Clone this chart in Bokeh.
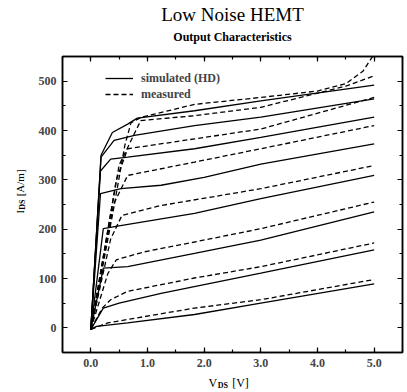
import math
from bokeh.plotting import figure
from bokeh.models import (Range1d, LinearAxis, SingleIntervalTicker, Label,
                          NumeralTickFormatter, CustomJSTickFormatter, Legend, LegendItem)
from bokeh.embed import file_html
from bokeh.resources import INLINE

# ---------------- data ----------------
x_ticks = [0, 1, 2, 3, 4, 5]
y_ticks = [0, 100, 200, 300, 400, 500]

# simulated (HD) curves: V_DS [V] and I_DS [A/m]
sim_v = [
    [0, 0.10, 0.65, 1.83, 3.0, 5.0],
    [0, 0.22, 0.50, 1.24, 3.0, 5.0],
    [0, 0.22, 0.65, 1.83, 3.0, 5.0],
    [0, 0.22, 0.47, 1.83, 3.0, 5.0],
    [0, 0.17, 0.53, 1.24, 2.0, 3.0, 5.0],
    [0, 0.17, 0.35, 0.65, 1.83, 3.0, 5.0],
    [0, 0.18, 0.41, 0.77, 1.83, 3.0, 5.0],
    [0, 0.18, 0.38, 0.65, 0.82, 1.83, 3.0, 5.0],
]
sim_i = [
    [-3, 3, 10, 27, 50, 89],
    [-3, 40, 50, 70, 111, 158],
    [-3, 121, 124, 151, 178, 235],
    [-3, 201, 206, 232, 262, 309],
    [-3, 272, 282, 289, 305, 332, 373],
    [-3, 318, 342, 346, 363, 386, 427],
    [-3, 346, 380, 390, 410, 427, 464],
    [-3, 350, 396, 413, 425, 440, 460, 492],
]

# measured curves
meas_v = [
    [0, 0.30, 0.65, 1.83, 3.0, 5.0],
    [0, 0.20, 0.35, 0.65, 1.83, 3.0, 5.0],
    [0, 0.30, 0.45, 0.94, 1.83, 3.0, 5.0],
    [0, 0.35, 0.55, 1.24, 3.0, 5.0],
    [0, 0.40, 0.65, 1.83, 3.0, 5.0],
    [0, 0.45, 0.65, 1.83, 3.0, 5.0],
    [0, 0.50, 0.88, 1.83, 3.0, 4.5, 5.0],
    [0, 0.40, 0.60, 0.71, 0.90, 1.83, 3.0, 4.0, 4.5, 4.8, 5.0],
]
meas_i = [
    [-3, 10, 17, 40, 57, 98],
    [-3, 40, 57, 74, 101, 124, 172],
    [-3, 110, 138, 154, 174, 201, 255],
    [-3, 180, 228, 248, 282, 329],
    [-3, 250, 309, 336, 363, 410],
    [-3, 300, 363, 383, 403, 467],
    [-3, 330, 420, 430, 447, 490, 511],
    [-3, 240, 370, 416, 427, 453, 467, 480, 495, 520, 555],
]

# ---------------- figure ----------------
W, H = 407, 392
L, R, T, B = 62, 5, 56, 40
X0, X1 = -0.5, 5.5
Y0, Y1 = -50, 550

p = figure(width=W, height=H, output_backend="svg", toolbar_location=None,
           x_range=Range1d(X0, X1), y_range=Range1d(Y0, Y1),
           min_border_left=L, min_border_right=R, min_border_top=T,
           min_border_bottom=B, x_axis_type=None, y_axis_type=None)
p.xgrid.visible = False
p.ygrid.visible = False
p.outline_line_color = "black"
p.outline_line_width = 1.5
p.background_fill_color = "white"
p.border_fill_color = "white"

FW = (W - L - R)
FH = (H - T - B)
serif = "Liberation Serif"

def dx(px):
    return X0 + (px - L) / FW * (X1 - X0)

def dy(py):
    return Y0 + (H - B - py) / FH * (Y1 - Y0)

def style_axis(ax, labels=True):
    ax.axis_line_width = 1.5
    ax.major_tick_in = 5
    ax.major_tick_out = 0
    ax.minor_tick_in = 3
    ax.minor_tick_out = 0
    ax.major_tick_line_width = 1.2
    ax.minor_tick_line_width = 1.2
    ax.major_label_text_font = serif
    ax.major_label_text_font_style = "bold"
    ax.major_label_text_font_size = "12px"
    ax.major_label_standoff = 6 if labels else 0
    if not labels:
        ax.formatter = CustomJSTickFormatter(code="return ''")

xt = SingleIntervalTicker(interval=1, num_minor_ticks=2)
yt = SingleIntervalTicker(interval=100, num_minor_ticks=2)

xb = LinearAxis(ticker=xt, formatter=NumeralTickFormatter(format="0.0"))
style_axis(xb)
p.add_layout(xb, "below")
yl = LinearAxis(ticker=yt)
style_axis(yl)
p.add_layout(yl, "left")
xa = LinearAxis(ticker=xt)
style_axis(xa, labels=False)
p.add_layout(xa, "above")
yr = LinearAxis(ticker=yt)
style_axis(yr, labels=False)
p.add_layout(yr, "right")

# ---------------- curves ----------------
sim_r = None
meas_r = None
for v, i in zip(sim_v, sim_i):
    r = p.line(v, i, line_color="black", line_width=1.3)
    sim_r = sim_r or r
for v, i in zip(meas_v, meas_i):
    r = p.line(v, i, line_color="black", line_width=1.3, line_dash="5 3")
    meas_r = meas_r or r

legend = Legend(items=[LegendItem(label="simulated (HD)", renderers=[sim_r]),
                       LegendItem(label="measured", renderers=[meas_r])],
                location=(43, FH - 14 - 32), padding=0, margin=0, spacing=0,
                glyph_width=28, glyph_height=16, label_height=16,
                label_standoff=8, background_fill_alpha=0,
                border_line_color=None, label_text_font=serif,
                label_text_font_style="bold", label_text_font_size="12px")
p.add_layout(legend, "center")

# ---------------- texts outside the frame: labels placed in side panels ----------------
# (data-unit positions; the panel only decides where their size is counted)
def lab(text, px, py, size, side, style="normal", align="left", angle=0):
    p.add_layout(Label(x=dx(px), y=dy(py), text=text, text_font=serif,
                       text_font_size=f"{size}px", text_font_style=style,
                       text_align=align, text_baseline="middle",
                       angle=angle, text_color="black"), side)

lab("Low Noise HEMT", 232, 14, 19, "above", align="center")
lab("Output Characteristics", 232, 36, 12, "above", "bold", align="center")

xs = 208
NB = "\u00a0"
lab("V" + NB * 5 + "[V]", xs, 382, 12, "below")
lab("DS", xs + 9.2, 385, 8, "above", "bold")

ys = 213
lab("I", 19, ys, 11, "left", angle=math.pi / 2)
lab("DS", 22, ys - 3.7, 8, "left", "bold", angle=math.pi / 2)
lab("[A/m]", 19, ys - 3.7 - 10.5 - 3, 11, "left", angle=math.pi / 2)

open("out.html", "w").write(file_html(p, INLINE))
